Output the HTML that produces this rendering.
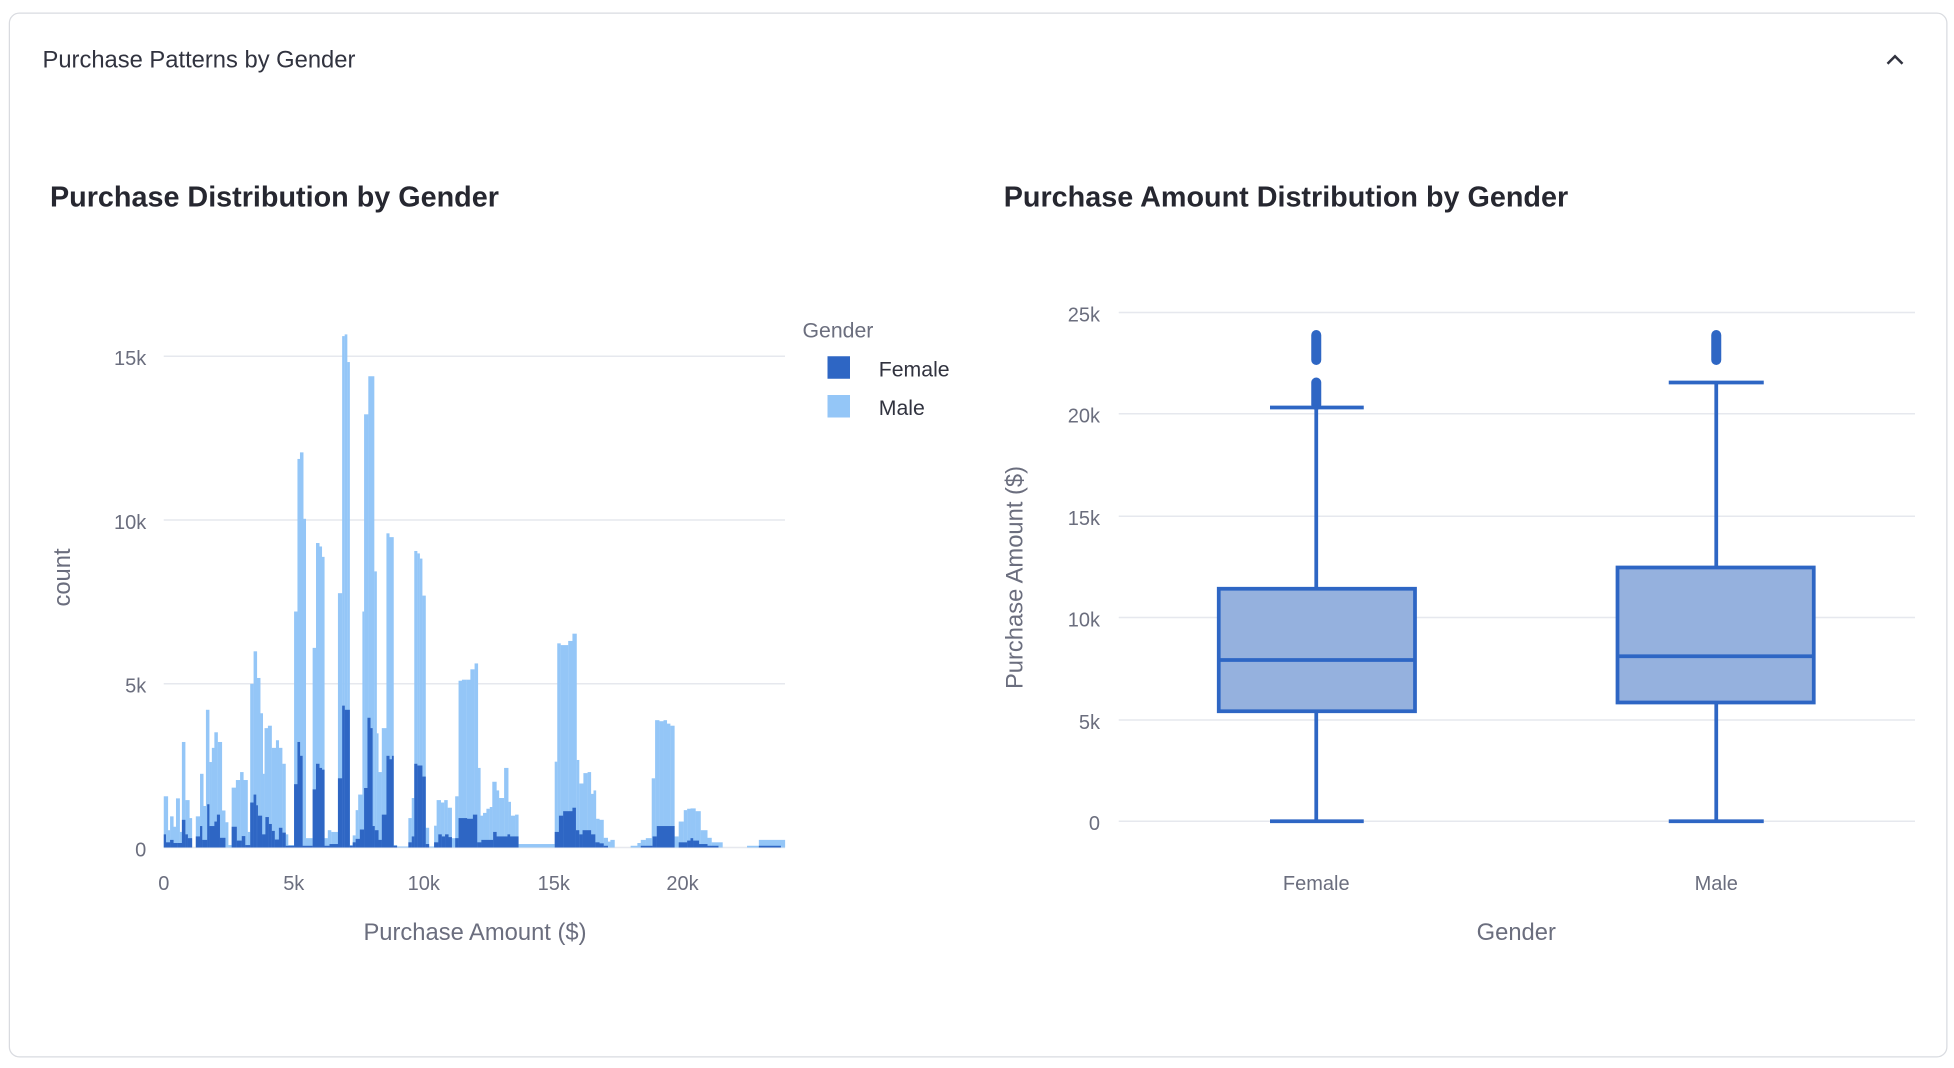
<!DOCTYPE html>
<html><head><meta charset="utf-8"><style>
html,body{margin:0;padding:0;background:#fff;}
svg{display:block;font-family:"Liberation Sans",sans-serif;}
</style></head><body>
<svg id="s" width="1954" height="1068" viewBox="0 0 1563.2 854.4" xmlns="http://www.w3.org/2000/svg">
<rect x="7.5" y="10.5" width="1550" height="835" rx="8" fill="#fff" stroke="#d9dbe0" stroke-width="1"/>
<text x="34" y="54" font-size="19" fill="#31333f">Purchase Patterns by Gender</text>
<path d="M1510 51 L1516 45 L1522 51" fill="none" stroke="#31333f" stroke-width="2"/>
<text x="40" y="165" font-size="23" font-weight="bold" fill="#262730">Purchase Distribution by Gender</text>
<text x="803" y="165" font-size="23" font-weight="bold" fill="#262730">Purchase Amount Distribution by Gender</text>

<!-- histogram grid -->
<g stroke="#e6e8ee" stroke-width="1.2">
<line x1="131" x2="628" y1="285" y2="285"/><line x1="131" x2="628" y1="416" y2="416"/><line x1="131" x2="628" y1="547" y2="547"/><line x1="131" x2="628" y1="678" y2="678"/>
</g>
<g font-size="16" fill="#6b6e7e" text-anchor="end">
<text x="117" y="292">15k</text><text x="117" y="423">10k</text><text x="117" y="554">5k</text><text x="117" y="685">0</text>
</g>
<g font-size="16" fill="#6b6e7e" text-anchor="middle">
<text x="131" y="712">0</text><text x="235" y="712">5k</text><text x="339" y="712">10k</text><text x="443" y="712">15k</text><text x="546" y="712">20k</text>
</g>
<text x="380" y="752" font-size="19" fill="#6b6e7e" text-anchor="middle">Purchase Amount ($)</text>
<text transform="translate(56,462) rotate(-90)" font-size="19" fill="#6b6e7e" text-anchor="middle">count</text>
<g id="hist" transform="matrix(0.3374,0,0,0.2768,111.77,255.88)"></g>

<!-- legend -->
<text x="642" y="270" font-size="17" fill="#6b6e7e">Gender</text>
<rect x="662" y="285" width="18" height="18" fill="#2e66c4"/>
<rect x="662" y="316" width="18" height="18" fill="#94c6f7"/>
<text x="703" y="301" font-size="17" fill="#31333f">Female</text>
<text x="703" y="332" font-size="17" fill="#31333f">Male</text>

<!-- box plot grid -->
<g stroke="#e6e8ee" stroke-width="1.2">
<line x1="895" x2="1532" y1="250" y2="250"/><line x1="895" x2="1532" y1="331" y2="331"/><line x1="895" x2="1532" y1="413" y2="413"/><line x1="895" x2="1532" y1="494" y2="494"/><line x1="895" x2="1532" y1="576" y2="576"/><line x1="895" x2="1532" y1="657" y2="657"/>
</g>
<g font-size="16" fill="#6b6e7e" text-anchor="end">
<text x="880" y="257">25k</text><text x="880" y="338">20k</text><text x="880" y="420">15k</text><text x="880" y="501">10k</text><text x="880" y="583">5k</text><text x="880" y="664">0</text>
</g>
<g font-size="16" fill="#6b6e7e" text-anchor="middle">
<text x="1053" y="712">Female</text><text x="1373" y="712">Male</text>
</g>
<text x="1213" y="752" font-size="19" fill="#6b6e7e" text-anchor="middle">Gender</text>
<text transform="translate(818,462) rotate(-90)" font-size="19" fill="#6b6e7e" text-anchor="middle">Purchase Amount ($)</text>

<g stroke="#2e66c4" stroke-width="3" fill="none">
<line x1="1053" x2="1053" y1="326" y2="471"/><line x1="1053" x2="1053" y1="569" y2="657"/>
<line x1="1016" x2="1091" y1="326" y2="326"/><line x1="1016" x2="1091" y1="657" y2="657"/>
<rect x="975" y="471" width="157" height="98" fill="#95b1de"/>
<line x1="975" x2="1132" y1="528" y2="528"/>
<line x1="1373" x2="1373" y1="306" y2="454"/><line x1="1373" x2="1373" y1="562" y2="657"/>
<line x1="1335" x2="1411" y1="306" y2="306"/><line x1="1335" x2="1411" y1="657" y2="657"/>
<rect x="1294" y="454" width="157" height="108" fill="#95b1de"/>
<line x1="1294" x2="1451" y1="525" y2="525"/>
</g>
<g stroke="#2e66c4" stroke-width="8" stroke-linecap="round">
<line x1="1053" x2="1053" y1="268" y2="288"/><line x1="1053" x2="1053" y1="306" y2="324"/>
<line x1="1373" x2="1373" y1="268" y2="288"/>
</g>
</svg>
<script>
var M=[57,67,1377,67,72,1475,72,80,1435,80,86,1465,86,95,1383,95,100,1480,100,108,1220,108,118,1388,118,124,1440,133,143,1435,143,151,1312,151,157,1405,157,165,1127,165,171,1278,171,177,1237,177,185,1192,185,195,1220,195,203,1418,203,210,1452,210,218,1518,218,228,1352,228,238,1330,238,246,1307,246,256,1330,256,262,1480,262,270,1052,270,278,958,278,286,1035,286,292,1137,292,296,1312,296,304,1180,304,313,1173,313,323,1237,323,330,1215,330,338,1237,338,346,1283,346,352,1487,352,366,1518,366,374,843,374,380,402,380,388,383,388,394,575,394,410,1498,410,418,948,418,426,645,426,432,655,432,438,685,438,446,1498,446,454,1475,454,470,1480,470,480,790,480,486,47,486,492,42,492,498,122,498,505,1518,505,512,1490,512,518,1417,518,528,1372,528,532,843,532,542,273,542,556,163,556,562,727,562,566,1195,566,574,1307,574,585,1180,585,592,617,592,602,628,602,610,1518,610,637,1522,637,645,1440,645,651,1382,651,658,668,658,664,675,664,670,690,670,678,797,678,686,1468,686,698,1522,698,704,1462,704,714,1388,714,722,1395,722,730,1388,730,740,1410,740,748,1498,748,756,1377,756,764,1043,764,774,1040,774,784,1040,784,794,1010,794,802,993,802,808,1295,808,814,1433,814,822,1425,822,830,1413,830,836,1408,836,846,1335,846,852,1360,852,864,1382,864,874,1295,874,880,1393,880,890,1433,890,898,1430,898,984,1515,984,990,1277,990,998,935,998,1016,940,1016,1026,928,1026,1036,907,1036,1042,1272,1042,1052,1340,1052,1062,1310,1062,1070,1307,1070,1076,1370,1076,1082,1360,1082,1090,1442,1090,1100,1445,1100,1110,1497,1110,1116,1508,1116,1126,1503,1164,1180,1520,1180,1188,1512,1188,1200,1503,1200,1214,1498,1214,1222,1325,1222,1232,1157,1232,1242,1160,1242,1250,1157,1250,1258,1167,1258,1268,1173,1268,1278,1493,1278,1290,1450,1290,1298,1417,1298,1306,1413,1306,1318,1412,1318,1330,1420,1330,1346,1475,1346,1356,1497,1356,1382,1510,1440,1468,1520,1468,1530,1503];
var F=[57,62,1487,62,72,1510,72,80,1503,80,90,1512,90,100,1512,100,108,1445,108,114,1487,114,124,1498,133,143,1493,143,148,1463,148,160,1503,160,165,1400,165,177,1463,177,183,1450,183,190,1430,190,203,1497,218,230,1465,230,242,1505,242,250,1492,250,262,1518,262,270,1395,270,276,1372,276,280,1403,280,290,1433,290,298,1487,298,306,1437,306,313,1457,313,320,1477,320,330,1502,330,338,1468,338,346,1482,346,366,1520,366,374,1342,374,380,1220,380,386,1260,386,410,1520,410,418,1357,418,426,1283,426,432,1295,432,438,1300,438,450,1520,450,470,1515,470,480,1325,480,486,1115,486,498,1127,498,505,1520,505,512,1510,512,522,1500,522,532,1473,532,540,1353,540,547,1150,547,552,1180,552,557,1463,557,566,1475,566,574,1503,574,585,1430,585,592,1260,592,598,1270,598,602,1260,602,610,1520,637,645,1510,645,651,1493,651,658,1283,658,670,1288,670,678,1320,678,686,1515,698,708,1510,708,716,1487,716,724,1493,724,732,1487,732,740,1495,748,756,1498,756,776,1440,776,790,1442,790,800,1430,800,810,1510,810,838,1503,838,846,1480,846,872,1493,872,878,1487,878,898,1493,984,994,1480,994,1004,1433,1004,1026,1420,1026,1034,1410,1034,1042,1475,1042,1050,1487,1050,1070,1475,1070,1080,1487,1080,1090,1510,1090,1100,1513,1100,1110,1520,1188,1216,1520,1216,1226,1493,1226,1268,1463,1278,1298,1510,1298,1306,1505,1306,1312,1498,1312,1326,1505,1326,1346,1515,1346,1372,1520,1468,1520,1520];
var g=document.getElementById('hist'),ns='http://www.w3.org/2000/svg';
function draw(a,c){for(var i=0;i<a.length;i+=3){var r=document.createElementNS(ns,'rect');r.setAttribute('x',a[i]);r.setAttribute('width',a[i+1]-a[i]+0.3);r.setAttribute('y',a[i+2]);r.setAttribute('height',1525-a[i+2]);r.setAttribute('fill',c);g.appendChild(r);}}
draw(M,'#94c6f7');draw(F,'#2e66c4');
</script>
</body></html>
